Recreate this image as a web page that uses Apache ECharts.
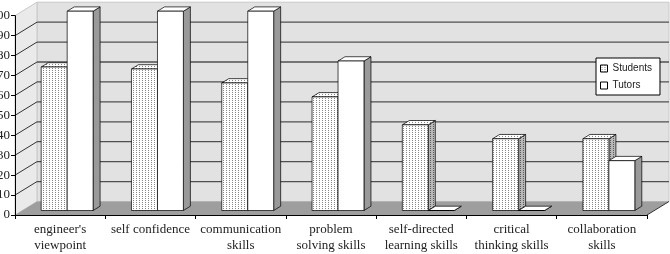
<!DOCTYPE html>
<html>
<head>
<meta charset="utf-8">
<script src="https://cdn.jsdelivr.net/npm/echarts@6/dist/echarts.min.js"></script>
<style>
html,body{margin:0;padding:0;background:#fff;}
#chart{width:670px;height:254px;}
</style>
</head>
<body>
<div id="chart"></div>
<script>
/*----------------------------- data -----------------------------*/
var categories = ["engineer's\nviewpoint", 'self confidence', 'communication\nskills',
    'problem\nsolving skills', 'self-directed\nlearning skills', 'critical\nthinking skills',
    'collaboration\nskills'];
var students = [72, 71, 64, 57, 43, 36, 36];
var tutors = [100, 100, 100, 75, 0, 0, 25];
var yMin = 0, yMax = 100, yStep = 10;

/*----------------------------- look -----------------------------*/
var WALL_DX = 22, WALL_DY = 13.5;     // front plane -> back wall
var FRONT_DY = 4.5;                   // bars stand a bit behind the front edge
var BAR_DX = 7, BAR_DY = 4.3;         // bar depth

function dots(bg, dot){
    var c = document.createElement('canvas');
    c.width = 3; c.height = 2;
    var g = c.getContext('2d');
    g.fillStyle = bg; g.fillRect(0, 0, 3, 2);
    g.fillStyle = dot; g.fillRect(1, 0, 1, 1);
    return {image: c, repeat: 'repeat'};
}
var dotFront = dots('#ffffff', '#858585');
var dotSide = dots('#b8b8b8', '#5a5a5a');

function makeBar(lo, hi, front, top, side){
    return function (params, api){
        var idx = api.value(0), v = api.value(1);
        var p0 = api.coord([idx, 0]);
        var p1 = api.coord([idx, v]);
        var band = api.size([1, 0])[0];
        var L = p0[0] + lo * band, R = p0[0] + hi * band;
        var yb = p0[1] - FRONT_DY, yt = p1[1] - FRONT_DY;
        var edge = {stroke: '#000', lineWidth: 0.7};
        return {
            type: 'group',
            children: [
                {type: 'polygon', shape: {points: [[R, yt], [R + BAR_DX, yt - BAR_DY], [R + BAR_DX, yb - BAR_DY], [R, yb]]},
                    style: Object.assign({fill: side}, edge)},
                {type: 'polygon', shape: {points: [[L, yt], [R, yt], [R + BAR_DX, yt - BAR_DY], [L + BAR_DX, yt - BAR_DY]]},
                    style: Object.assign({fill: top}, edge)},
                {type: 'rect', shape: {x: L, y: yt, width: R - L, height: yb - yt},
                    style: Object.assign({fill: front}, edge)}
            ]
        };
    };
}

function renderWalls(params, api){
    var cs = params.coordSys;
    var x = cs.x, y = cs.y, w = cs.width, h = cs.height;
    var kids = [];
    // back wall
    kids.push({type: 'rect', shape: {x: x + WALL_DX, y: y - WALL_DY, width: w, height: h},
        style: {fill: '#e2e2e2', stroke: '#c8c8c8', lineWidth: 1}});
    // side wall
    kids.push({type: 'polygon', shape: {points: [[x, y], [x + WALL_DX, y - WALL_DY], [x + WALL_DX, y + h - WALL_DY], [x, y + h]]},
        style: {fill: '#eaeaea', stroke: '#c8c8c8', lineWidth: 1}});
    // gridlines on back wall + diagonals on side wall
    for (var v = yMin + yStep; v < yMax; v += yStep) {
        var yy = api.coord([0, v])[1];
        kids.push({type: 'line', shape: {x1: x + WALL_DX, y1: yy - WALL_DY, x2: x + WALL_DX + w, y2: yy - WALL_DY},
            style: {stroke: '#505050', lineWidth: 1.3}});
        kids.push({type: 'line', shape: {x1: x, y1: yy, x2: x + WALL_DX, y2: yy - WALL_DY},
            style: {stroke: '#333', lineWidth: 1}});
    }
    // floor
    kids.push({type: 'polygon', shape: {points: [[x, y + h], [x + w, y + h], [x + w + WALL_DX, y + h - WALL_DY], [x + WALL_DX, y + h - WALL_DY]]},
        style: {fill: '#9e9e9e'}});
    kids.push({type: 'line', shape: {x1: x + w, y1: y + h, x2: x + w + WALL_DX, y2: y + h - WALL_DY},
        style: {stroke: '#333', lineWidth: 1}});
    return {type: 'group', children: kids};
}

var myChart = echarts.init(document.getElementById('chart'));

var option = {
    backgroundColor: '#fff',
    animation: false,
    grid: {
        left: 15,
        top: 15.7,
        right: 23,
        bottom: 39,
        containLabel: false,
        outerBoundsMode: 'none'
    },
    legend: {
        orient: 'vertical',
        left: 596,
        top: 58,
        width: 64,
        padding: [4, 8, 3, 4],
        itemGap: 4,
        itemWidth: 7,
        itemHeight: 7,
        itemTextGap: 4,
        backgroundColor: '#fff',
        borderColor: '#000',
        borderWidth: 1,
        borderRadius: 0,
        textStyle: {fontFamily: 'Liberation Sans', fontSize: 10, color: '#222', lineHeight: 13},
        data: [
            {name: 'Students', icon: 'rect', itemStyle: {color: dotFront, borderColor: '#000', borderWidth: 1}},
            {name: 'Tutors', icon: 'rect', itemStyle: {color: '#fff', borderColor: '#000', borderWidth: 1}}
        ]
    },
    xAxis: {
        type: 'category',
        data: categories,
        z: 5,
        axisLine: {lineStyle: {color: '#000', width: 1}},
        axisTick: {show: true, length: 4, lineStyle: {color: '#000'}},
        axisLabel: {
            interval: 0,
            margin: 7,
            fontFamily: 'Liberation Serif',
            fontSize: 13,
            lineHeight: 16,
            color: '#222'
        },
        splitLine: {show: false}
    },
    yAxis: {
        type: 'value',
        min: yMin,
        max: yMax,
        interval: yStep,
        z: 5,
        axisLine: {show: true, lineStyle: {color: '#000', width: 1}},
        axisTick: {show: true, length: 4, lineStyle: {color: '#000'}},
        axisLabel: {margin: 5, fontFamily: 'Liberation Serif', fontSize: 13, color: '#222'},
        splitLine: {show: false}
    },
    series: [
        {
            name: 'walls',
            type: 'custom',
            z: 1,
            silent: true,
            renderItem: renderWalls,
            data: [[0, 0]]
        },
        {
            name: 'Students',
            type: 'custom',
            z: 3,
            itemStyle: {color: '#bbb'},
            renderItem: makeBar(-0.21, 0.078, dotFront, dotFront, dotSide),
            data: students.map(function (v, i){ return [i, v]; })
        },
        {
            name: 'Tutors',
            type: 'custom',
            z: 4,
            itemStyle: {color: '#fff'},
            renderItem: makeBar(0.078, 0.365, '#ffffff', '#ffffff', '#9a9a9a'),
            data: tutors.map(function (v, i){ return [i, v]; })
        }
    ]
};

myChart.setOption(option);
</script>
</body>
</html>
